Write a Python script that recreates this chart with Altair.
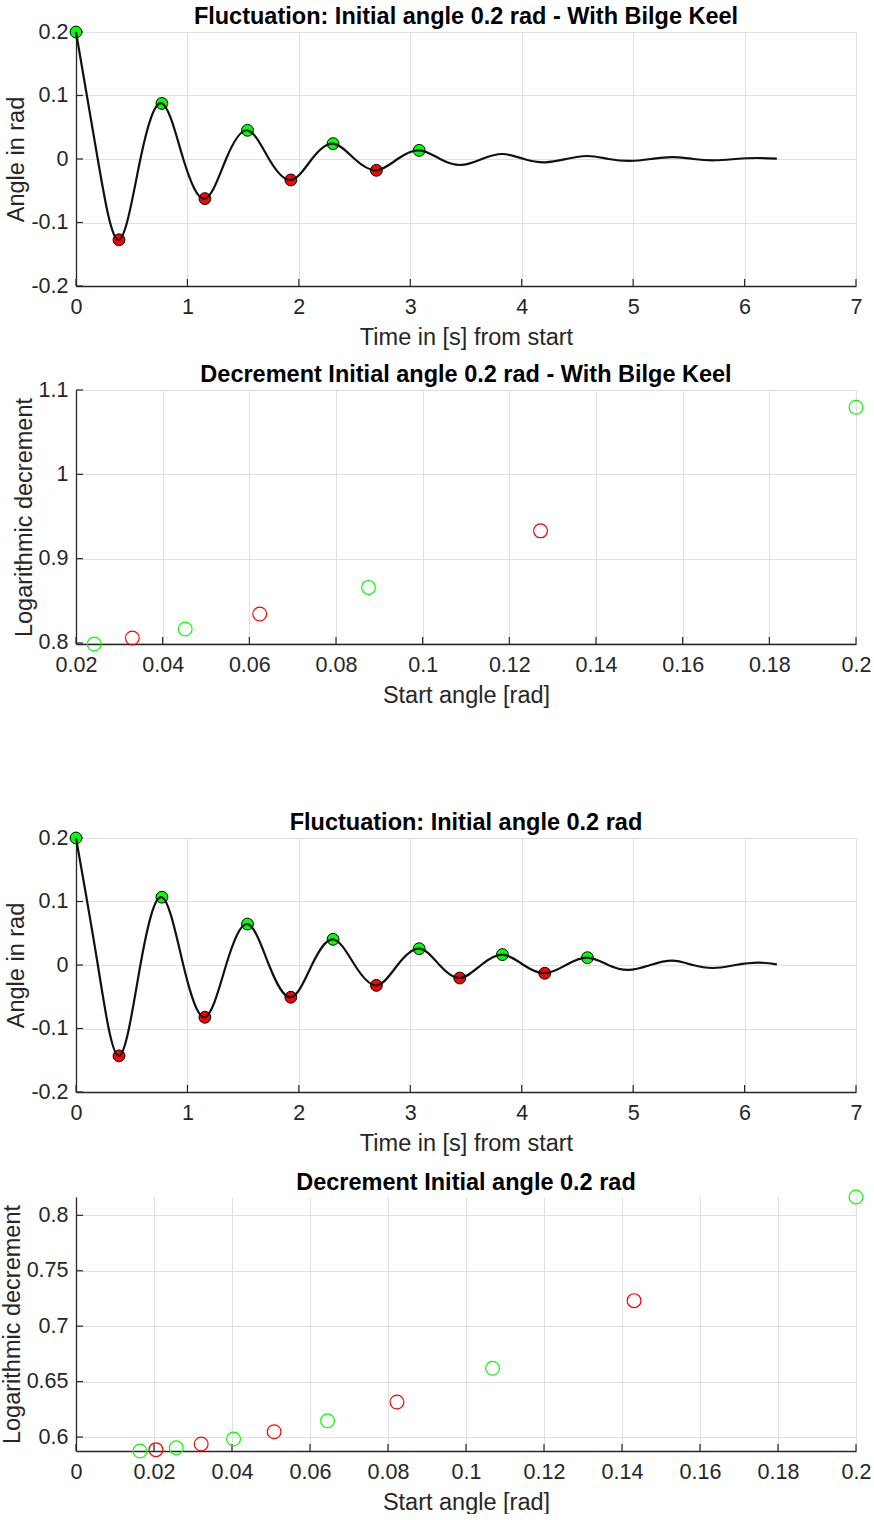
import altair as alt
import pandas as pd

# ---------------- data ----------------
# Panel 1: fluctuation with bilge keel (extrema, zero crossings, end point)
fl1_ext_t = [0.0, 0.386, 0.771, 1.157, 1.539, 1.928, 2.307, 2.696, 3.080,
             3.455, 3.830, 4.210, 4.590, 4.970, 5.350, 5.730, 6.110]
fl1_ext_a = [0.2, -0.1272, 0.0875, -0.0624, 0.0452, -0.0330, 0.0242, -0.0178, 0.0136,
             -0.0094, 0.0079, -0.0052, 0.0047, -0.0031, 0.0031, -0.0020, 0.0016]
fl1_zero_t = [0.195, 0.578, 0.963, 1.347, 1.732, 2.117, 2.501, 2.886, 3.268,
              3.643, 4.020, 4.400, 4.780, 5.160, 5.540, 5.920]
fl1_end_t = [6.29]
fl1_end_a = [0.0005]
fl1_mark_t = [0.0, 0.386, 0.771, 1.157, 1.539, 1.928, 2.307, 2.696, 3.080]
fl1_mark_a = [0.2, -0.1272, 0.0875, -0.0624, 0.0452, -0.0330, 0.0242, -0.0178, 0.0136]
fl1_mark_kind = ["max", "min", "max", "min", "max", "min", "max", "min", "max"]

# Panel 2: decrement with bilge keel
dec1_x = [0.2, 0.1272, 0.0875, 0.0624, 0.0452, 0.0330, 0.0242]
dec1_y = [1.0795, 0.933, 0.8659, 0.8343, 0.8166, 0.8059, 0.7988]
dec1_kind = ["max", "min", "max", "min", "max", "min", "max"]

# Panel 3: fluctuation without bilge keel
fl2_ext_t = [0.0, 0.386, 0.771, 1.157, 1.539, 1.928, 2.307, 2.696, 3.080,
             3.444, 3.827, 4.207, 4.590, 4.960, 5.350, 5.720, 6.120]
fl2_ext_a = [0.2, -0.1431, 0.1068, -0.0823, 0.0645, -0.0508, 0.0404, -0.0321, 0.0257,
             -0.0205, 0.0164, -0.0130, 0.0115, -0.0078, 0.0068, -0.0047, 0.0037]
fl2_zero_t = [0.196, 0.578, 0.963, 1.347, 1.732, 2.117, 2.501, 2.886, 3.262,
              3.636, 4.017, 4.398, 4.775, 5.155, 5.535, 5.920]
fl2_end_t = [6.29]
fl2_end_a = [0.001]
fl2_mark_t = [0.0, 0.386, 0.771, 1.157, 1.539, 1.928, 2.307, 2.696, 3.080, 3.444, 3.827, 4.207, 4.590]
fl2_mark_a = [0.2, -0.1431, 0.1068, -0.0823, 0.0645, -0.0508, 0.0404, -0.0321, 0.0257,
              -0.0205, 0.0164, -0.0130, 0.0115]
fl2_mark_kind = ["max", "min", "max", "min", "max", "min", "max", "min", "max", "min", "max", "min", "max"]

# Panel 4: decrement without bilge keel
dec2_x = [0.2, 0.1431, 0.1068, 0.0823, 0.0645, 0.0508, 0.0404, 0.0321, 0.0257, 0.0205, 0.0164]
dec2_y = [0.8165, 0.723, 0.662, 0.6316, 0.6147, 0.6048, 0.5982, 0.5937, 0.5904, 0.5886, 0.5874]
dec2_kind = ["max", "min", "max", "min", "max", "min", "max", "min", "max", "min", "max"]

# axis ticks / labels
fl_xticks = [0, 1, 2, 3, 4, 5, 6, 7]
fl_yticks = [-0.2, -0.1, 0, 0.1, 0.2]
dec1_xticks = [0.02, 0.04, 0.06, 0.08, 0.1, 0.12, 0.14, 0.16, 0.18, 0.2]
dec1_yticks = [0.8, 0.9, 1, 1.1]
dec2_xticks = [0, 0.02, 0.04, 0.06, 0.08, 0.1, 0.12, 0.14, 0.16, 0.18, 0.2]
dec2_yticks = [0.6, 0.65, 0.7, 0.75, 0.8]

titles = [
    "Fluctuation: Initial angle 0.2 rad - With Bilge Keel",
    "Decrement Initial angle 0.2 rad - With Bilge Keel",
    "Fluctuation: Initial angle 0.2 rad",
    "Decrement Initial angle 0.2 rad",
]

# ---------------- styling ----------------
FONT = "Liberation Sans"
AX = "#262626"
GRID = "#dfdfdf"
W = 780
H = 254
TICK = 7
LBL = 21.5
TTL = 23.5
TOFF = -7

KIND_SCALE = alt.Scale(domain=["max", "min"], range=["#00ff00", "#ff0000"])


def axis(values, title):
    return alt.Axis(values=values, title=title, labelExpr="'' + datum.value",
                    labelOverlap=False, labelFlush=False)


def ticks_layers(xf, yf, xenc, yenc, xvals, yvals, h):
    xt = alt.Chart(pd.DataFrame({xf: xvals})).mark_rule(color=AX, strokeWidth=1.2).encode(
        x=xenc, y=alt.value(h), y2=alt.value(h - TICK))
    yt = alt.Chart(pd.DataFrame({yf: yvals})).mark_rule(color=AX, strokeWidth=1.2).encode(
        y=yenc, x=alt.value(0), x2=alt.value(TICK))
    return xt, yt


def title_params(text):
    return alt.TitleParams(text=text, font=FONT, fontSize=TTL, fontWeight="bold",
                           color="black", anchor="middle", offset=TOFF)


def fluct_panel(ext_t, ext_a, zero_t, end_t, end_a, mt, ma, mk, title):
    line_df = pd.DataFrame({"t": ext_t + zero_t + end_t,
                            "angle": ext_a + [0.0] * len(zero_t) + end_a}).sort_values("t")
    mark_df = pd.DataFrame({"t": mt, "angle": ma, "kind": mk})
    x = alt.X("t:Q", scale=alt.Scale(domain=[0, 7], nice=False, zero=False),
              axis=axis(fl_xticks, "Time in [s] from start"))
    y = alt.Y("angle:Q", scale=alt.Scale(domain=[-0.2, 0.2], nice=False, zero=False),
              axis=axis(fl_yticks, "Angle in rad"))
    xt, yt = ticks_layers("t", "angle", x, y, fl_xticks, fl_yticks, H)
    pts = alt.Chart(mark_df).mark_circle(size=140, opacity=1, stroke="black", strokeWidth=1).encode(
        x=x, y=y, color=alt.Color("kind:N", scale=KIND_SCALE, legend=None))
    line = alt.Chart(line_df).mark_line(interpolate="natural", color="#111111", strokeWidth=2.2).encode(
        x=x, y=y)
    return alt.layer(xt, yt, pts, line).properties(width=W, height=H, title=title_params(title))


def dec_panel(dx, dy, dk, xdom, ydom, xticks, yticks, title):
    df = pd.DataFrame({"start": dx, "dec": dy, "kind": dk})
    x = alt.X("start:Q", scale=alt.Scale(domain=xdom, nice=False, zero=False),
              axis=axis(xticks, "Start angle [rad]"))
    y = alt.Y("dec:Q", scale=alt.Scale(domain=ydom, nice=False, zero=False),
              axis=axis(yticks, "Logarithmic decrement"))
    xt, yt = ticks_layers("start", "dec", x, y, xticks, yticks, H)
    pts = alt.Chart(df).mark_point(shape="circle", size=190, filled=False, strokeWidth=1.2, opacity=1).encode(
        x=x, y=y, color=alt.Color("kind:N", scale=KIND_SCALE, legend=None))
    return alt.layer(xt, yt, pts).properties(width=W, height=H, title=title_params(title))


def spacer(h):
    return alt.Chart(pd.DataFrame({"s": [0]})).mark_point(opacity=0).encode(
        x=alt.value(0), y=alt.value(0)).properties(width=W, height=h)


p1 = fluct_panel(fl1_ext_t, fl1_ext_a, fl1_zero_t, fl1_end_t, fl1_end_a,
                 fl1_mark_t, fl1_mark_a, fl1_mark_kind, titles[0])
p2 = dec_panel(dec1_x, dec1_y, dec1_kind, [0.02, 0.2], [0.7988, 1.1],
               dec1_xticks, dec1_yticks, titles[1])
p3 = fluct_panel(fl2_ext_t, fl2_ext_a, fl2_zero_t, fl2_end_t, fl2_end_a,
                 fl2_mark_t, fl2_mark_a, fl2_mark_kind, titles[2])
p4 = dec_panel(dec2_x, dec2_y, dec2_kind, [0, 0.2], [0.5874, 0.8165],
               dec2_xticks, dec2_yticks, titles[3])

chart = alt.vconcat(p1, spacer(10), p2, spacer(100), p3, spacer(13), p4, spacing=0).properties(
    padding={"left": 0, "top": 4, "right": 0, "bottom": 0}
).configure_view(strokeWidth=0).configure_axis(
    grid=True, gridColor=GRID, gridWidth=1, domainColor=AX, domainWidth=1.3, ticks=False,
    labelFont=FONT, labelFontSize=LBL, labelColor=AX, titleFont=FONT, titleFontSize=TTL,
    titleFontWeight="normal", titleColor=AX, labelFlush=False
).configure_axisX(labelPadding=10, titlePadding=8).configure_axisY(labelPadding=8, titlePadding=2
).configure_concat(spacing=0)

chart.save("out.html", embed_options={"renderer": "svg", "actions": False})
